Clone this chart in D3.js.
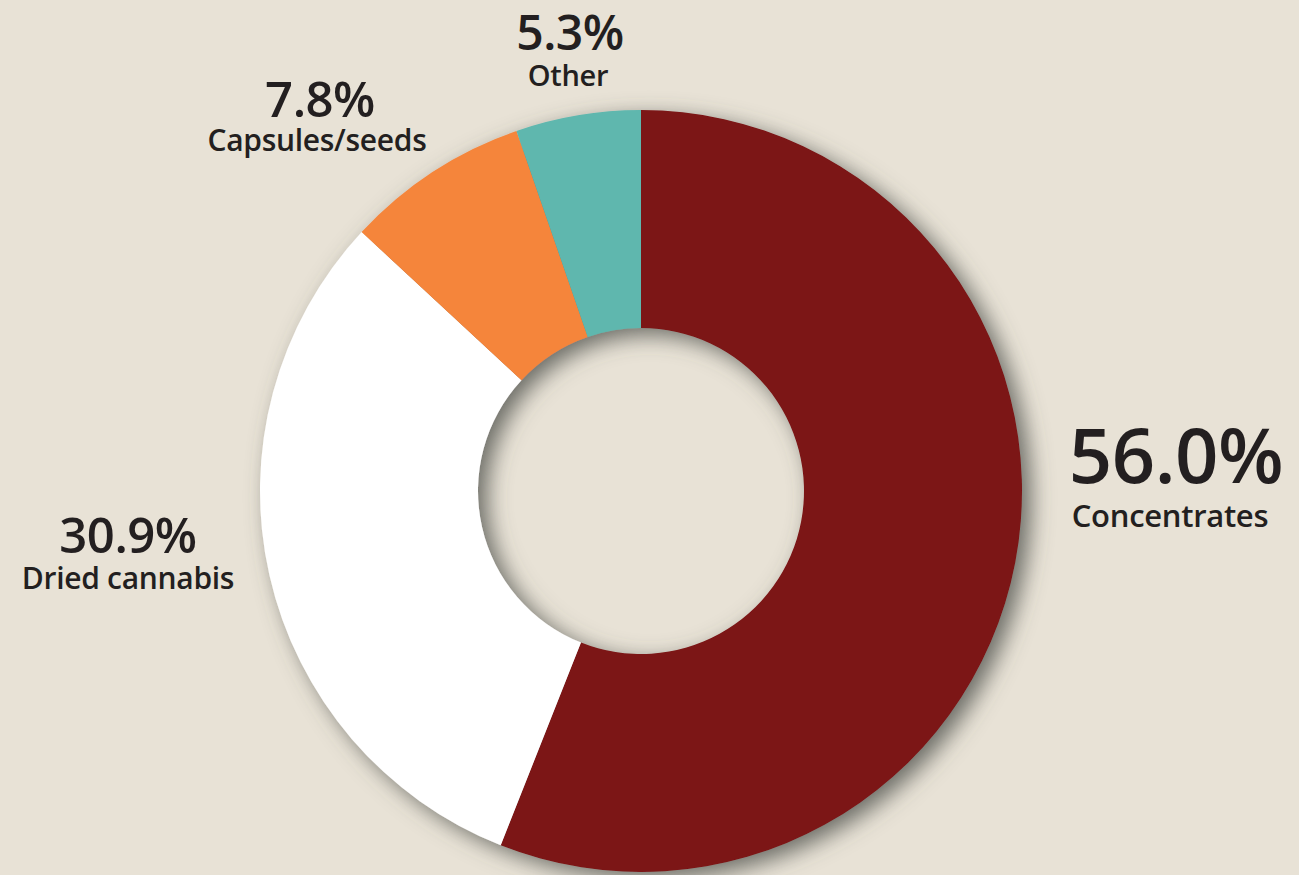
<!DOCTYPE html>
<html>
<head>
<meta charset="utf-8">
<script src="https://cdn.jsdelivr.net/npm/d3@7"></script>
<style>
  html, body { margin: 0; padding: 0; background: #E8E2D6; }
  svg { display: block; }
</style>
</head>
<body>
<div id="chart"></div>
<script>
// ---- data ----
const categories = ["Concentrates", "Dried cannabis", "Capsules/seeds", "Other"];
const shares = [56.0, 30.9, 7.8, 5.3];
const pctLabels = ["56.0%", "30.9%", "7.8%", "5.3%"];

// ---- styles / layout (kept separate from data) ----
const colors = ["#7C1214", "#FFFFFF", "#F5853A", "#5EB7AE"];
const W = 1299, H = 875;
const cx = 641, cy = 491, outerR = 381, innerR = 163;
const labelLayout = [
  { x: 1176, pctY: 483, pctSize: 76, nameX: 1170, nameY: 527, nameSize: 31 },
  { x: 128,  pctY: 553, pctSize: 49, nameX: 128,  nameY: 589, nameSize: 30 },
  { x: 320,  pctY: 117, pctSize: 49, nameX: 317,  nameY: 151, nameSize: 30 },
  { x: 570,  pctY: 50,  pctSize: 48, nameX: 568,  nameY: 86,  nameSize: 29 }
];
const textColor = "#231F20";
const font = "'Open Sans', 'DejaVu Sans', sans-serif";

const svg = d3.select("#chart").append("svg")
  .attr("width", W).attr("height", H);

svg.append("rect").attr("width", W).attr("height", H).attr("fill", "#E8E2D6");

const defs = svg.append("defs");
const f = defs.append("filter").attr("id", "shadow")
  .attr("x", "-20%").attr("y", "-20%").attr("width", "140%").attr("height", "140%");
f.append("feDropShadow")
  .attr("dx", 9).attr("dy", 7)
  .attr("stdDeviation", 11)
  .attr("flood-color", "#4e5048")
  .attr("flood-opacity", 0.8);

const pie = d3.pie().sort(null).value(d => d)(shares);
const arc = d3.arc().innerRadius(innerR).outerRadius(outerR);

const g = svg.append("g")
  .attr("transform", `translate(${cx},${cy})`)
  .attr("filter", "url(#shadow)");

g.selectAll("path")
  .data(pie)
  .join("path")
  .attr("d", arc)
  .attr("fill", (d, i) => colors[i]);

const labels = svg.append("g").attr("font-family", font).attr("fill", textColor)
  .attr("text-anchor", "middle");

categories.forEach((c, i) => {
  const L = labelLayout[i];
  labels.append("text")
    .attr("x", L.x).attr("y", L.pctY)
    .attr("font-size", L.pctSize).attr("font-weight", 600)
    .attr("letter-spacing", "-0.5")
    .text(pctLabels[i]);
  labels.append("text")
    .attr("x", L.nameX).attr("y", L.nameY)
    .attr("font-size", L.nameSize).attr("font-weight", 600)
    .attr("letter-spacing", "-0.3")
    .text(c);
});
</script>
</body>
</html>
